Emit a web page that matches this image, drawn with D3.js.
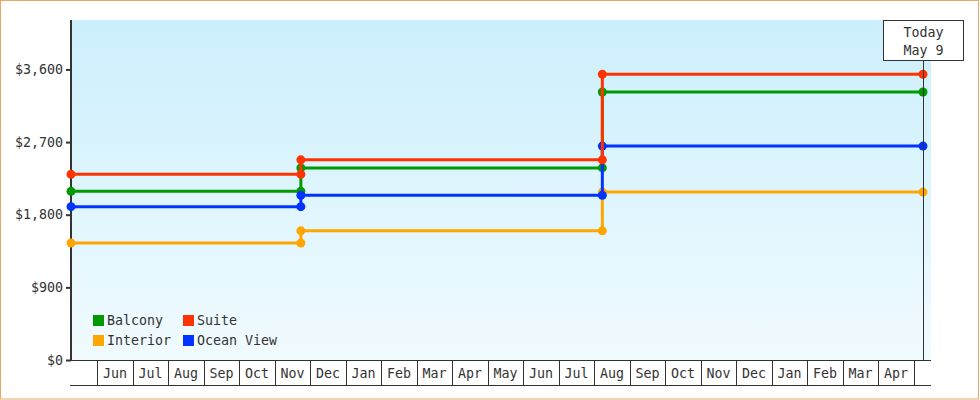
<!DOCTYPE html>
<html>
<head>
<meta charset="utf-8">
<script src="https://cdn.jsdelivr.net/npm/d3@7"></script>
<style>
  html, body { margin: 0; padding: 0; background: #fff; }
  svg { display: block; }
  text { font-family: "DejaVu Sans Mono", monospace; font-size: 13.3px; fill: #333; }
</style>
</head>
<body>
<svg id="chart" width="980" height="400"></svg>
<script>
// Dades
var seriesNames = ["Interior", "Balcony", "Ocean View", "Suite"];
var seriesColors = ["#ffa500", "#009900", "#0033ff", "#ff3300"];
var legendOrder = ["Balcony", "Suite", "Interior", "Ocean View"];

// preus per tram (abans del 1r canvi, entre canvis, despres del 2n canvi)
var interiorPrices = [1450, 1600, 2080];
var balconyPrices = [2090, 2380, 3320];
var oceanViewPrices = [1900, 2040, 2650];
var suitePrices = [2300, 2480, 3540];

var changeDates = ["2023-11-23", "2024-08-08"];
var startDate = "2023-05-09";
var todayDate = "2025-05-09";
var endDate = "2025-05-16";
var todayLabel = ["Today", "May 9"];

var monthLabels = ["Jun", "Jul", "Aug", "Sep", "Oct", "Nov", "Dec", "Jan", "Feb", "Mar", "Apr",
                   "May", "Jun", "Jul", "Aug", "Sep", "Oct", "Nov", "Dec", "Jan", "Feb", "Mar", "Apr"];
var yTicks = [0, 900, 1800, 2700, 3600];

var priceSets = [interiorPrices, balconyPrices, oceanViewPrices, suitePrices];

// Converteix una data a "mesos" des de l'1 de juny de 2023 (cada mes té la mateixa amplada)
function monthUnits(s) {
    var p = s.split("-").map(Number);
    var days = new Date(p[0], p[1], 0).getDate();
    return (p[0] - 2023) * 12 + (p[1] - 6) + (p[2] - 1) / days;
}

var svg = d3.select("#chart");
var W = 980, H = 400;
var plotLeft = 71, plotRight = 931, plotTop = 20, plotBottom = 360, axisBottom = 385;

// Marc exterior
svg.append("rect").attr("x", 0.5).attr("y", 0.5).attr("width", W - 2).attr("height", H - 1.5)
    .attr("fill", "#fff").attr("stroke", "#eaa862").attr("stroke-width", 1);

var x = d3.scaleLinear().domain([monthUnits(startDate), monthUnits(endDate)]).range([plotLeft, plotRight]);
var yMax = d3.max(priceSets, function(d) { return d3.max(d); }) * 1.19;
var y = d3.scaleLinear().domain([0, yMax]).range([plotBottom, plotTop]);

// Fons del gràfic
var defs = svg.append("defs");
var grad = defs.append("linearGradient").attr("id", "bg").attr("x1", 0).attr("y1", 0).attr("x2", 0).attr("y2", 1);
grad.append("stop").attr("offset", "0%").attr("stop-color", "#cbeffc");
grad.append("stop").attr("offset", "100%").attr("stop-color", "#f1fbff");
svg.append("rect").attr("x", plotLeft).attr("y", plotTop).attr("width", plotRight - plotLeft).attr("height", plotBottom - plotTop)
    .attr("fill", "url(#bg)");

// Eix Y
var yAxis = d3.axisLeft(y).tickValues(yTicks).tickSize(5).tickPadding(3)
    .tickFormat(d3.format("$,.0f"));
var gy = svg.append("g").attr("transform", "translate(" + plotLeft + ",0)").call(yAxis);
gy.select(".domain").remove();
gy.selectAll(".tick line").attr("stroke", "#333").attr("stroke-width", 2);
gy.selectAll(".tick text").attr("fill", "#333").style("font-family", "DejaVu Sans Mono").style("font-size", "13.3px");
svg.append("line").attr("x1", plotLeft).attr("x2", plotLeft).attr("y1", plotTop).attr("y2", plotBottom + 1)
    .attr("stroke", "#333").attr("stroke-width", 2);

// Eix X: cel·les de mesos
var gx = svg.append("g");
gx.append("line").attr("x1", plotLeft).attr("x2", plotRight).attr("y1", plotBottom + 0.5).attr("y2", plotBottom + 0.5)
    .attr("stroke", "#333");
gx.append("line").attr("x1", plotLeft - 1).attr("x2", plotRight).attr("y1", axisBottom + 0.5).attr("y2", axisBottom + 0.5)
    .attr("stroke", "#333");
var bounds = d3.range(monthLabels.length + 1);
gx.selectAll("line.sep").data(bounds).enter().append("line").attr("class", "sep")
    .attr("x1", function(d) { return Math.round(x(d)) + 0.5; })
    .attr("x2", function(d) { return Math.round(x(d)) + 0.5; })
    .attr("y1", plotBottom).attr("y2", axisBottom)
    .attr("stroke", "#333");
gx.selectAll("text").data(monthLabels).enter().append("text")
    .attr("x", function(d, i) { return x(i + 0.5); })
    .attr("y", 378)
    .attr("text-anchor", "middle")
    .text(function(d) { return d; });

// Línies esglaonades
function stepPoints(prices) {
    var pts = [[startDate, prices[0]]];
    changeDates.forEach(function(c, i) {
        pts.push([c, prices[i]]);
        pts.push([c, prices[i + 1]]);
    });
    pts.push([todayDate, prices[prices.length - 1]]);
    return pts;
}

var line = d3.line()
    .x(function(d) { return x(monthUnits(d[0])); })
    .y(function(d) { return y(d[1]); });

priceSets.forEach(function(prices, i) {
    var pts = stepPoints(prices);
    var g = svg.append("g");
    g.append("path").datum(pts).attr("d", line)
        .attr("fill", "none").attr("stroke", seriesColors[i]).attr("stroke-width", 3);
    g.selectAll("circle").data(pts).enter().append("circle")
        .attr("cx", function(d) { return x(monthUnits(d[0])); })
        .attr("cy", function(d) { return y(d[1]); })
        .attr("r", 4.5)
        .attr("fill", seriesColors[i]);
});

// Línia i caixa d'avui
var tx = Math.round(x(monthUnits(todayDate))) + 0.5;
svg.append("line").attr("x1", tx).attr("x2", tx).attr("y1", 60).attr("y2", plotBottom)
    .attr("stroke", "#333").attr("stroke-width", 1);
svg.append("rect").attr("x", tx - 40).attr("y", 20.5).attr("width", 80).attr("height", 40)
    .attr("fill", "#fff").attr("stroke", "#333");
svg.selectAll("text.today").data(todayLabel).enter().append("text").attr("class", "today")
    .attr("x", tx).attr("y", function(d, i) { return 37 + i * 18; })
    .attr("text-anchor", "middle")
    .text(function(d) { return d; });

// Llegenda
var legend = svg.append("g").attr("transform", "translate(93,315)");
var item = legend.selectAll("g").data(legendOrder).enter().append("g")
    .attr("transform", function(d, i) { return "translate(" + (i % 2) * 90 + "," + Math.floor(i / 2) * 20 + ")"; });
item.append("rect").attr("width", 11).attr("height", 11)
    .attr("fill", function(d) { return seriesColors[seriesNames.indexOf(d)]; });
item.append("text").attr("x", 14).attr("y", 10).text(function(d) { return d; });
</script>
</body>
</html>
